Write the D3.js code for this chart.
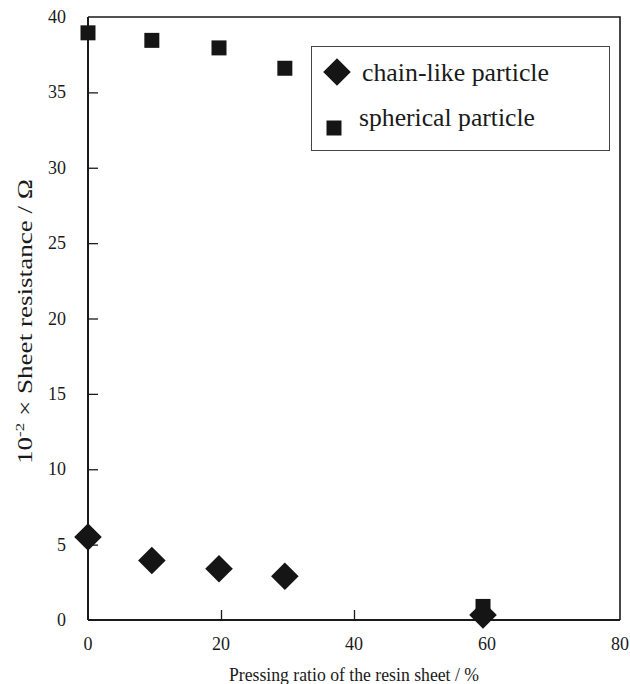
<!DOCTYPE html>
<html>
<head>
<meta charset="utf-8">
<script src="https://cdn.jsdelivr.net/npm/d3@7"></script>
<style>
  body { margin: 0; background: #fff; }
</style>
</head>
<body>
<svg id="chart" width="630" height="684"></svg>
<script>
// Data
var pressing = [0, 9.6, 19.7, 29.6, 59.4];
var chainLike = [5.5, 3.95, 3.4, 2.9, 0.33];
var spherical = [38.95, 38.45, 37.95, 36.6, 0.9];
var xTicks = [0, 20, 40, 60, 80];
var yTicks = [0, 5, 10, 15, 20, 25, 30, 35, 40];

var serif = "Liberation Serif";
var ink = "#1a1a1a";

var svg = d3.select("#chart")
  .attr("font-family", serif);

var x = d3.scaleLinear().domain([0, 80]).range([88, 620]);
var y = d3.scaleLinear().domain([0, 40]).range([620, 17]);

// frame top and right
svg.append("path")
  .attr("d", `M${x(0)},${y(40)}H${x(80)}V${y(0)}`)
  .attr("fill", "none")
  .attr("stroke", ink)
  .attr("stroke-width", 1.6);

// y axis, inward ticks
var yAxis = svg.append("g")
  .attr("transform", `translate(${x(0)},0)`)
  .call(d3.axisRight(y).tickValues(yTicks.filter(d => d > 0 && d < 40)).tickSize(10).tickFormat(""));
yAxis.select(".domain").remove();
yAxis.selectAll("line").attr("stroke", ink).attr("stroke-width", 1.3);

svg.selectAll(".ylab")
  .data(yTicks)
  .enter().append("text")
  .attr("class", "ylab")
  .attr("x", x(0) - 22)
  .attr("y", d => y(d) + 6)
  .attr("text-anchor", "end")
  .attr("font-family", serif)
  .attr("font-size", 18)
  .attr("fill", ink)
  .text(d => d);

// x axis, inward ticks
var xAxis = svg.append("g")
  .attr("transform", `translate(0,${y(0)})`)
  .call(d3.axisTop(x).tickValues(xTicks.filter(d => d > 0 && d < 80)).tickSize(10).tickFormat(""));
xAxis.select(".domain").remove();
xAxis.selectAll("line").attr("stroke", ink).attr("stroke-width", 1.3);

svg.selectAll(".xlab")
  .data(xTicks)
  .enter().append("text")
  .attr("class", "xlab")
  .attr("x", d => x(d))
  .attr("y", y(0) + 30)
  .attr("text-anchor", "middle")
  .attr("font-family", serif)
  .attr("font-size", 18)
  .attr("fill", ink)
  .text(d => d);

// axis lines
svg.append("line")
  .attr("x1", x(0)).attr("x2", x(0))
  .attr("y1", y(40)).attr("y2", y(0))
  .attr("stroke", ink).attr("stroke-width", 2);
svg.append("line")
  .attr("x1", x(0)).attr("x2", x(80))
  .attr("y1", y(0)).attr("y2", y(0))
  .attr("stroke", ink).attr("stroke-width", 2);

// axis titles
svg.append("text")
  .attr("x", (x(0) + x(80)) / 2)
  .attr("y", 681)
  .attr("text-anchor", "middle")
  .attr("font-family", serif)
  .attr("font-size", 19)
  .attr("fill", ink)
  .attr("textLength", 250)
  .attr("lengthAdjust", "spacingAndGlyphs")
  .text("Pressing ratio of the resin sheet / %");

var yt = svg.append("text")
  .attr("transform", `translate(32,${(y(0) + y(40)) / 2 + 3}) rotate(-90)`)
  .attr("text-anchor", "middle")
  .attr("font-family", serif)
  .attr("font-size", 21)
  .attr("fill", ink)
  .attr("textLength", 285)
  .attr("lengthAdjust", "spacingAndGlyphs");
yt.append("tspan").text("10");
yt.append("tspan").attr("dy", -8).attr("font-size", 13).text("-2");
yt.append("tspan").attr("dy", 8).text(" \u00d7 Sheet resistance / \u03a9");

var diamond = d3.symbol().type(d3.symbolSquare).size(380);
var square = d3.symbol().type(d3.symbolSquare).size(225);

// spherical particle
svg.selectAll(".sq")
  .data(pressing.map((p, i) => [p, spherical[i]]))
  .enter().append("path")
  .attr("class", "sq")
  .attr("d", square)
  .attr("transform", d => `translate(${x(d[0])},${y(d[1])})`)
  .attr("fill", "#151515");

// chain-like particle
svg.selectAll(".dm")
  .data(pressing.map((p, i) => [p, chainLike[i]]))
  .enter().append("path")
  .attr("class", "dm")
  .attr("d", diamond)
  .attr("transform", d => `translate(${x(d[0])},${y(d[1])}) rotate(45)`)
  .attr("fill", "#151515");

// legend
var lg = svg.append("g");
lg.append("rect")
  .attr("x", 311.5).attr("y", 46.5)
  .attr("width", 298).attr("height", 104)
  .attr("fill", "#fff").attr("stroke", "#444").attr("stroke-width", 1);
lg.append("path")
  .attr("d", diamond)
  .attr("transform", "translate(337,72) rotate(45)")
  .attr("fill", "#151515");
lg.append("text")
  .attr("x", 362).attr("y", 81)
  .attr("font-family", serif)
  .attr("font-size", 25)
  .attr("fill", ink)
  .attr("textLength", 187)
  .attr("lengthAdjust", "spacingAndGlyphs")
  .text("chain-like particle");
lg.append("path")
  .attr("d", square)
  .attr("transform", "translate(334,128)")
  .attr("fill", "#151515");
lg.append("text")
  .attr("x", 359).attr("y", 126)
  .attr("font-family", serif)
  .attr("font-size", 25)
  .attr("fill", ink)
  .attr("textLength", 176)
  .attr("lengthAdjust", "spacingAndGlyphs")
  .text("spherical particle");
</script>
</body>
</html>
